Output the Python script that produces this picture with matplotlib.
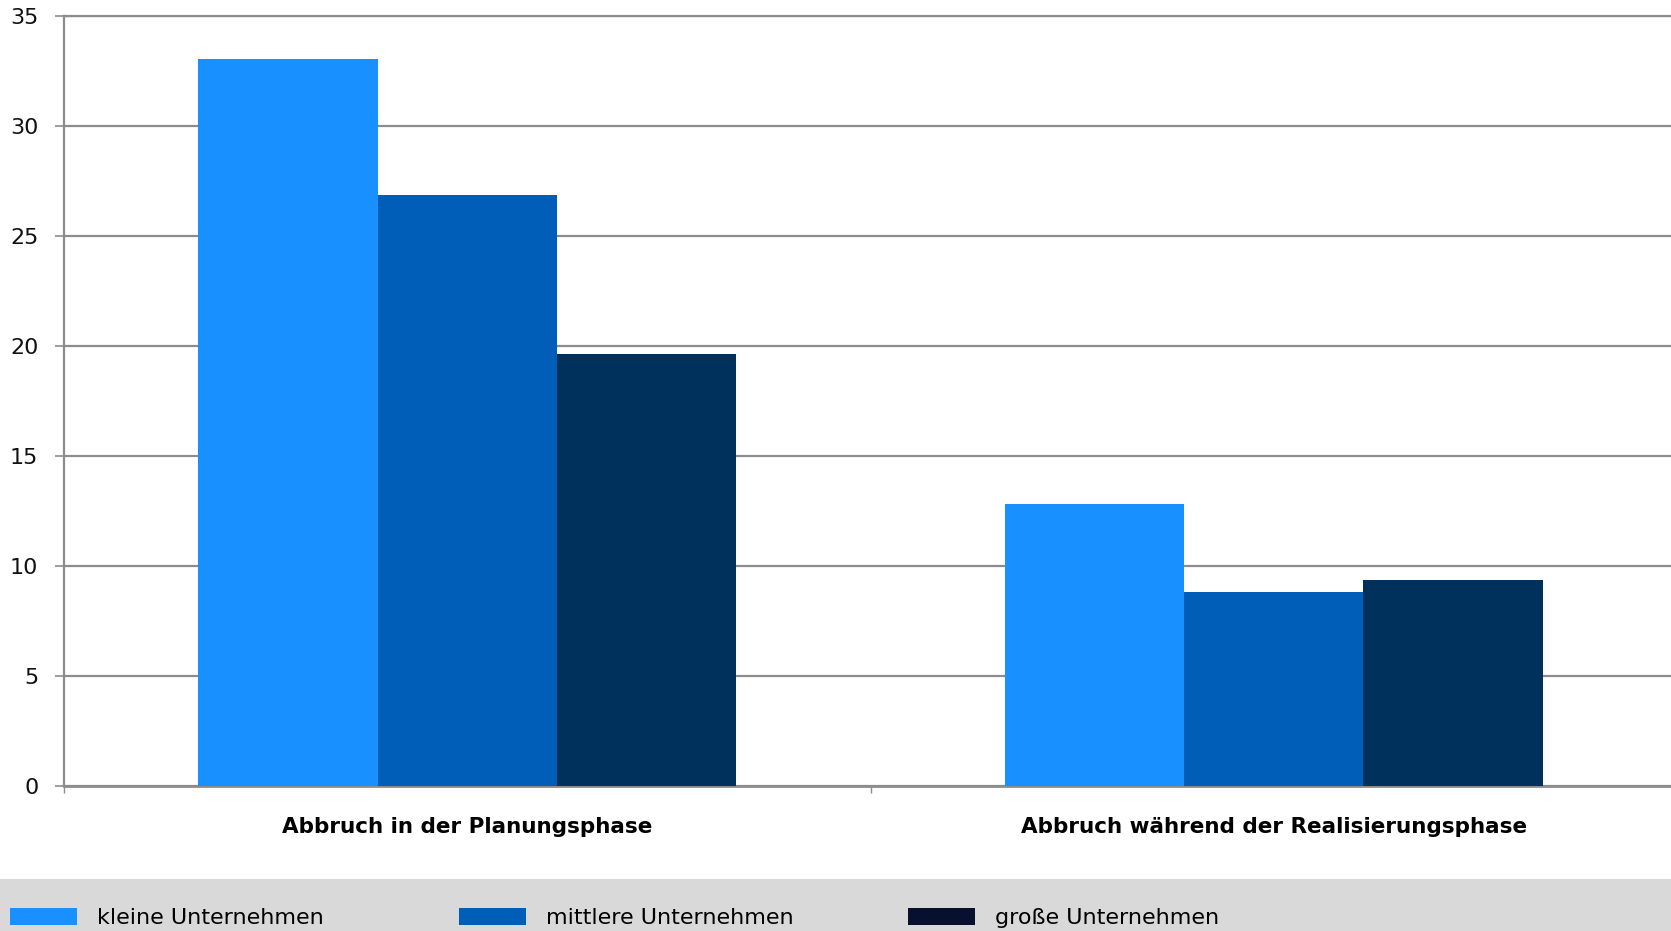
import matplotlib
matplotlib.use("Agg")
import matplotlib.pyplot as plt
from matplotlib.patches import Rectangle, Patch
import numpy as np

categories = ["Abbruch in der Planungsphase", "Abbruch während der Realisierungsphase"]
series_names = ["kleine Unternehmen", "mittlere Unternehmen", "große Unternehmen"]
kleine = [33.05, 12.8]
mittlere = [26.85, 8.82]
grosse = [19.63, 9.36]
yticks = [0, 5, 10, 15, 20, 25, 30, 35]

bar_colors = ["#1890FF", "#005EB8", "#00315C"]
legend_colors = ["#1890FF", "#005EB8", "#07102E"]
grid_color = "#8c8c8c"

W, H = 1671, 931
fig = plt.figure(figsize=(W / 100, H / 100), dpi=100)
fig.patch.set_facecolor("white")

# legend band
fig.patches.append(Rectangle((0, 0), 1, 52 / H, transform=fig.transFigure,
                             facecolor="#d9d9d9", edgecolor="none", zorder=0))

left = 64 / W
bottom = (H - 785.5) / H
top = (H - 16) / H
width = 1613 / W
ax = fig.add_axes([left, bottom, width, top - bottom])

x = np.arange(len(categories))
bw = 2 / 9
data = [kleine, mittlere, grosse]
for i, (vals, c) in enumerate(zip(data, bar_colors)):
    ax.bar(x + (i - 1) * bw, vals, width=bw, color=c, edgecolor="none", zorder=3)

ax.set_xlim(-0.5, 1.5)
ax.set_ylim(0, 35)
ax.set_yticks(yticks)
ax.set_yticklabels([str(t) for t in yticks], fontsize=16, family=["DejaVu Sans"], color="#111111")
ax.yaxis.grid(True, color=grid_color, linewidth=1.6, zorder=0)
ax.set_axisbelow(True)
ax.tick_params(axis="y", length=6.5, width=1.2, color=grid_color, pad=12)

ax.set_xticks([-0.5, 0.5, 1.5])
ax.set_xticklabels([])
ax.tick_params(axis="x", length=5, width=1.0, color=grid_color)
ax.set_xticks(x, minor=True)
ax.set_xticklabels(categories, minor=True, fontsize=15.5, fontweight="bold",
                   family=["DejaVu Sans"])
ax.tick_params(axis="x", which="minor", length=0, pad=23)

ax.spines["right"].set_visible(False)
ax.spines["top"].set_color(grid_color)
ax.spines["top"].set_linewidth(1.6)
ax.spines["left"].set_color(grid_color)
ax.spines["left"].set_linewidth(1.6)
ax.spines["bottom"].set_color(grid_color)
ax.spines["bottom"].set_linewidth(2.0)

# legend entries
leg_x = [6, 455, 904]
for name, c, lx in zip(series_names, legend_colors, leg_x):
    h = Patch(facecolor=c, edgecolor="none")
    fig.legend(handles=[h], labels=[name], loc="lower left",
               bbox_to_anchor=(lx / W, -1.5 / H), frameon=False,
               prop={"family": ["DejaVu Sans"], "size": 16},
               handlelength=3.0, handleheight=0.85, handletextpad=0.9,
               borderpad=0.2, borderaxespad=0)

fig.savefig("out.png", dpi=100, facecolor="white")
